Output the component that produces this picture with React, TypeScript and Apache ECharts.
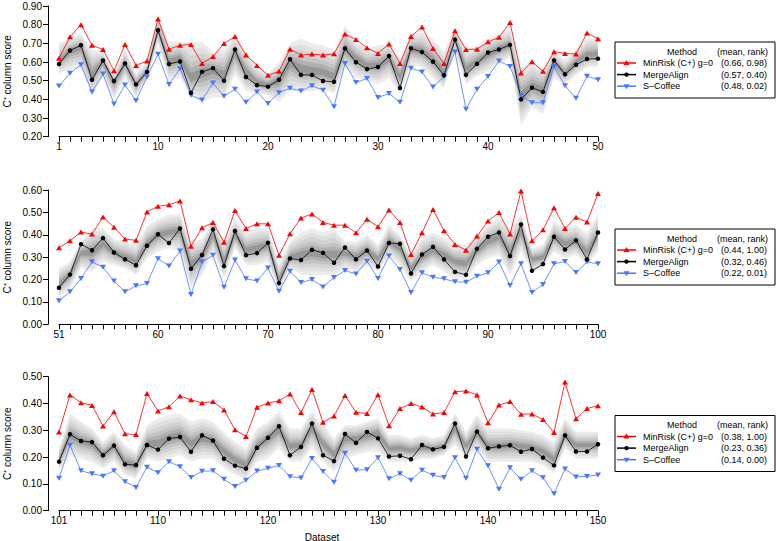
import React, { useEffect, useRef } from "react";
import * as echarts from "echarts";

// ---------- categories ----------
const datasets1 = [1,2,3,4,5,6,7,8,9,10,11,12,13,14,15,16,17,18,19,20,21,22,23,24,25,26,27,28,29,30,31,32,33,34,35,36,37,38,39,40,41,42,43,44,45,46,47,48,49,50];
const datasets2 = [51,52,53,54,55,56,57,58,59,60,61,62,63,64,65,66,67,68,69,70,71,72,73,74,75,76,77,78,79,80,81,82,83,84,85,86,87,88,89,90,91,92,93,94,95,96,97,98,99,100];
const datasets3 = [101,102,103,104,105,106,107,108,109,110,111,112,113,114,115,116,117,118,119,120,121,122,123,124,125,126,127,128,129,130,131,132,133,134,135,136,137,138,139,140,141,142,143,144,145,146,147,148,149,150];

const xTickLabels1 = ["1", "10", "20", "30", "40", "50"];
const xTickLabels2 = ["51", "60", "70", "80", "90", "100"];
const xTickLabels3 = ["101", "110", "120", "130", "140", "150"];

// ---------- panel 1 ----------
const minRisk1 = [0.62,0.735,0.80,0.69,0.667,0.553,0.694,0.582,0.606,0.83,0.669,0.69,0.694,0.592,0.629,0.699,0.736,0.637,0.582,0.529,0.55,0.669,0.637,0.643,0.637,0.644,0.75,0.72,0.676,0.646,0.697,0.592,0.736,0.788,0.672,0.592,0.767,0.667,0.669,0.708,0.732,0.811,0.541,0.602,0.55,0.655,0.646,0.643,0.755,0.725];
const mergeAlign1 = [0.589,0.662,0.69,0.505,0.608,0.498,0.592,0.48,0.547,0.77,0.589,0.603,0.435,0.547,0.567,0.50,0.667,0.52,0.476,0.468,0.505,0.615,0.531,0.531,0.498,0.494,0.673,0.599,0.562,0.573,0.632,0.461,0.674,0.653,0.602,0.529,0.72,0.532,0.59,0.651,0.667,0.692,0.40,0.462,0.44,0.609,0.534,0.585,0.616,0.618];
const sCoffee1 = [0.471,0.54,0.585,0.44,0.536,0.375,0.477,0.393,0.52,0.641,0.48,0.564,0.422,0.396,0.487,0.417,0.454,0.384,0.44,0.378,0.436,0.459,0.445,0.473,0.449,0.361,0.592,0.49,0.512,0.41,0.431,0.385,0.567,0.546,0.466,0.522,0.653,0.347,0.454,0.522,0.606,0.576,0.421,0.382,0.382,0.576,0.473,0.406,0.524,0.505];
const bandHigh1 = [0.70,0.73,0.75,0.67,0.655,0.54,0.67,0.54,0.60,0.85,0.71,0.71,0.70,0.71,0.655,0.67,0.74,0.655,0.575,0.54,0.60,0.70,0.725,0.70,0.69,0.66,0.795,0.71,0.67,0.69,0.70,0.62,0.75,0.76,0.725,0.655,0.785,0.67,0.69,0.725,0.75,0.78,0.57,0.60,0.57,0.655,0.61,0.67,0.725,0.735];
const bandMid1 = [0.60,0.66,0.68,0.53,0.60,0.49,0.59,0.48,0.55,0.77,0.60,0.62,0.51,0.54,0.56,0.53,0.65,0.55,0.49,0.475,0.50,0.60,0.56,0.55,0.54,0.52,0.67,0.62,0.58,0.58,0.62,0.52,0.67,0.66,0.61,0.54,0.72,0.56,0.60,0.64,0.67,0.69,0.42,0.47,0.45,0.60,0.54,0.60,0.64,0.64];
const bandLow1 = [0.54,0.56,0.57,0.42,0.525,0.40,0.515,0.41,0.505,0.70,0.50,0.515,0.42,0.385,0.41,0.41,0.53,0.445,0.435,0.42,0.385,0.445,0.445,0.445,0.46,0.43,0.57,0.515,0.50,0.48,0.515,0.43,0.585,0.57,0.515,0.46,0.655,0.48,0.525,0.55,0.595,0.62,0.26,0.36,0.32,0.515,0.48,0.53,0.57,0.575];
const legendStats1 = ["(0.66, 0.98)", "(0.57, 0.40)", "(0.48, 0.02)"];

// ---------- panel 2 ----------
const minRisk2 = [0.342,0.373,0.412,0.403,0.479,0.434,0.381,0.375,0.502,0.527,0.534,0.551,0.349,0.431,0.455,0.367,0.508,0.428,0.449,0.449,0.308,0.405,0.475,0.493,0.455,0.443,0.443,0.409,0.469,0.436,0.511,0.455,0.312,0.409,0.513,0.418,0.357,0.331,0.394,0.461,0.499,0.403,0.596,0.373,0.422,0.521,0.428,0.478,0.457,0.584];
const mergeAlign2 = [0.163,0.222,0.358,0.331,0.385,0.321,0.29,0.264,0.351,0.402,0.363,0.428,0.248,0.31,0.424,0.26,0.417,0.309,0.318,0.364,0.184,0.294,0.287,0.333,0.319,0.275,0.343,0.29,0.33,0.258,0.363,0.36,0.227,0.312,0.346,0.29,0.234,0.221,0.337,0.391,0.41,0.305,0.446,0.239,0.269,0.391,0.334,0.375,0.29,0.41];
const sCoffee2 = [0.105,0.145,0.205,0.279,0.255,0.193,0.145,0.172,0.182,0.293,0.261,0.327,0.133,0.278,0.308,0.166,0.287,0.203,0.194,0.251,0.148,0.237,0.187,0.20,0.167,0.209,0.24,0.225,0.282,0.205,0.305,0.245,0.142,0.23,0.21,0.203,0.19,0.188,0.215,0.23,0.278,0.173,0.27,0.142,0.178,0.27,0.281,0.231,0.279,0.27];
const bandHigh2 = [0.25,0.28,0.37,0.43,0.43,0.38,0.37,0.355,0.44,0.47,0.49,0.495,0.37,0.38,0.47,0.37,0.47,0.41,0.43,0.43,0.265,0.37,0.41,0.43,0.41,0.43,0.37,0.37,0.40,0.355,0.445,0.40,0.31,0.385,0.41,0.385,0.355,0.355,0.40,0.445,0.475,0.43,0.49,0.34,0.355,0.46,0.43,0.445,0.41,0.49];
const bandMid2 = [0.18,0.22,0.32,0.32,0.36,0.32,0.30,0.28,0.36,0.40,0.41,0.42,0.27,0.30,0.40,0.28,0.40,0.33,0.34,0.355,0.20,0.30,0.31,0.32,0.31,0.31,0.32,0.30,0.33,0.29,0.37,0.34,0.25,0.30,0.33,0.31,0.28,0.27,0.33,0.37,0.39,0.32,0.42,0.29,0.30,0.39,0.36,0.37,0.32,0.40];
const bandLow2 = [0.12,0.16,0.25,0.235,0.28,0.265,0.25,0.22,0.295,0.325,0.34,0.325,0.16,0.22,0.325,0.205,0.34,0.265,0.265,0.28,0.145,0.25,0.22,0.22,0.22,0.22,0.25,0.235,0.265,0.235,0.31,0.265,0.19,0.235,0.265,0.235,0.205,0.205,0.265,0.295,0.31,0.22,0.325,0.235,0.25,0.325,0.295,0.31,0.265,0.325];
const legendStats2 = ["(0.44, 1.00)", "(0.32, 0.46)", "(0.22, 0.01)"];

// ---------- panel 3 ----------
const minRisk3 = [0.294,0.432,0.403,0.393,0.316,0.369,0.287,0.284,0.437,0.372,0.388,0.428,0.414,0.402,0.407,0.376,0.302,0.277,0.386,0.402,0.41,0.435,0.366,0.452,0.33,0.353,0.43,0.367,0.363,0.433,0.317,0.381,0.40,0.387,0.361,0.366,0.444,0.447,0.432,0.328,0.394,0.407,0.36,0.361,0.34,0.292,0.48,0.343,0.381,0.392];
const mergeAlign3 = [0.183,0.285,0.26,0.256,0.207,0.243,0.173,0.17,0.245,0.228,0.269,0.275,0.22,0.281,0.262,0.194,0.168,0.157,0.235,0.272,0.315,0.207,0.238,0.325,0.207,0.185,0.286,0.253,0.294,0.27,0.202,0.205,0.192,0.245,0.229,0.238,0.325,0.202,0.295,0.233,0.24,0.244,0.22,0.23,0.198,0.169,0.281,0.221,0.221,0.248];
const sCoffee3 = [0.121,0.244,0.149,0.138,0.129,0.149,0.108,0.087,0.162,0.142,0.183,0.164,0.124,0.147,0.149,0.117,0.09,0.114,0.148,0.158,0.169,0.127,0.122,0.195,0.146,0.106,0.214,0.151,0.153,0.198,0.119,0.138,0.114,0.151,0.132,0.124,0.198,0.121,0.229,0.168,0.08,0.16,0.117,0.149,0.123,0.063,0.156,0.126,0.128,0.133];
const bandHigh3 = [0.23,0.363,0.332,0.307,0.257,0.295,0.245,0.22,0.32,0.345,0.357,0.363,0.332,0.345,0.332,0.295,0.257,0.232,0.307,0.332,0.37,0.307,0.307,0.37,0.32,0.27,0.32,0.32,0.332,0.345,0.282,0.282,0.27,0.282,0.27,0.282,0.363,0.295,0.357,0.307,0.307,0.307,0.30,0.295,0.282,0.257,0.345,0.295,0.295,0.295];
const bandMid3 = [0.19,0.28,0.26,0.25,0.21,0.24,0.18,0.17,0.25,0.25,0.27,0.28,0.25,0.27,0.26,0.22,0.19,0.17,0.24,0.27,0.30,0.24,0.245,0.31,0.25,0.21,0.27,0.27,0.28,0.29,0.23,0.235,0.225,0.235,0.23,0.24,0.31,0.24,0.29,0.24,0.24,0.245,0.24,0.235,0.22,0.19,0.28,0.245,0.245,0.245];
const bandLow3 = [0.15,0.208,0.195,0.183,0.158,0.183,0.133,0.12,0.195,0.183,0.195,0.208,0.183,0.195,0.195,0.158,0.133,0.12,0.183,0.195,0.233,0.183,0.183,0.233,0.183,0.145,0.195,0.208,0.22,0.22,0.183,0.183,0.183,0.195,0.195,0.208,0.245,0.195,0.233,0.183,0.183,0.183,0.183,0.183,0.17,0.14,0.233,0.195,0.195,0.195];
const legendStats3 = ["(0.38, 1.00)", "(0.23, 0.36)", "(0.14, 0.00)"];

const methodNames = ["MinRisk (C+) g=0", "MergeAlign", "S\u2013Coffee"];
const yTitle = "C\u207A column score";
const xTitle = "Dataset";

// ---------- styling ----------
const FONT = "'Liberation Sans', Arial, Helvetica, sans-serif";
const RED = "#ff0000";
const BLACK = "#000000";
const BLUE = "#4876ff";
const bandLevels = [1, 0.82, 0.64, 0.47, 0.31, 0.16];
const bandColors = ["#ececec", "#e0e0e0", "#d3d3d3", "#c4c4c4", "#b0b0b0", "#989898"];

const panels = [
  { cats: datasets1, red: minRisk1, black: mergeAlign1, blue: sCoffee1, low: bandLow1, mid: bandMid1, high: bandHigh1, yMin: 0.2, yMax: 0.9, ticks: xTickLabels1, stats: legendStats1, top: 6, height: 130.7, legendTop: 42 },
  { cats: datasets2, red: minRisk2, black: mergeAlign2, blue: sCoffee2, low: bandLow2, mid: bandMid2, high: bandHigh2, yMin: 0, yMax: 0.6, ticks: xTickLabels2, stats: legendStats2, top: 190, height: 134.3, legendTop: 229 },
  { cats: datasets3, red: minRisk3, black: mergeAlign3, blue: sCoffee3, low: bandLow3, mid: bandMid3, high: bandHigh3, yMin: 0, yMax: 0.5, ticks: xTickLabels3, stats: legendStats3, top: 376.7, height: 134, legendTop: 415.5 },
];

const GRID_LEFT = 59;
const GRID_WIDTH = 539;

function buildOption() {
  const grids: any[] = [];
  const xAxes: any[] = [];
  const yAxes: any[] = [];
  const series: any[] = [];
  const graphics: any[] = [];

  panels.forEach((p, i) => {
    grids.push({ left: GRID_LEFT, width: GRID_WIDTH, top: p.top, height: p.height, outerBoundsMode: "none", containLabel: false });
    xAxes.push({
      type: "category",
      gridIndex: i,
      data: p.cats.map(String),
      boundaryGap: false,
      axisLine: { show: true, lineStyle: { color: BLACK, width: 1 } },
      axisTick: { show: true, interval: 0, length: 5, lineStyle: { color: BLACK, width: 1 } },
      axisLabel: {
        interval: (_idx: number, val: string) => p.ticks.includes(val),
        fontSize: 10,
        fontFamily: FONT,
        color: BLACK,
        margin: 5,
      },
      splitLine: { show: false },
    });
    yAxes.push({
      type: "value",
      gridIndex: i,
      min: p.yMin,
      max: p.yMax,
      interval: 0.1,
      offset: 11,
      axisLine: { show: true, lineStyle: { color: BLACK, width: 1 } },
      axisTick: { show: true, length: 5, lineStyle: { color: BLACK, width: 1 } },
      axisLabel: { formatter: (v: number) => v.toFixed(2), fontSize: 10, fontFamily: FONT, color: BLACK, margin: 6 },
      splitLine: { show: false },
    });

    // shaded bands (outer to inner)
    bandLevels.forEach((f, k) => {
      const lo = p.low.map((l, j) => p.mid[j] - (p.mid[j] - l) * f);
      const hi = p.high.map((h, j) => p.mid[j] + (h - p.mid[j]) * f);
      const stack = `p${i}b${k}`;
      series.push({
        type: "line", xAxisIndex: i, yAxisIndex: i, data: lo, stack, symbol: "none",
        lineStyle: { width: 0, opacity: 0 }, silent: true, z: 1, clip: false,
      });
      series.push({
        type: "line", xAxisIndex: i, yAxisIndex: i, data: hi.map((h, j) => h - lo[j]), stack, symbol: "none",
        lineStyle: { width: 0, opacity: 0 }, areaStyle: { color: bandColors[k], opacity: 1 }, silent: true, z: 1, clip: false,
      });
    });

    const methodSeries = [
      { data: p.blue, color: BLUE, symbol: "triangle", rotate: 180, size: [6, 5] },
      { data: p.black, color: BLACK, symbol: "circle", rotate: 0, size: 4.5 },
      { data: p.red, color: RED, symbol: "triangle", rotate: 0, size: [6, 5] },
    ];
    methodSeries.forEach((m) => {
      series.push({
        type: "line", xAxisIndex: i, yAxisIndex: i, data: m.data,
        symbol: m.symbol, symbolRotate: m.rotate, symbolSize: m.size, showAllSymbol: true,
        itemStyle: { color: m.color }, lineStyle: { color: m.color, width: 0.8 },
        z: 3, clip: false, silent: true,
      });
    });

    // y-axis title
    graphics.push({
      type: "text", x: 7, y: p.top + p.height / 2, rotation: Math.PI / 2,
      style: { text: yTitle, font: `10px ${FONT}`, fill: BLACK, textAlign: "center", textVerticalAlign: "middle" },
    });

    // legend box
    const T = p.legendTop;
    const L = 615;
    graphics.push({ type: "rect", shape: { x: L, y: T, width: 160, height: 56 }, style: { fill: "#fff", stroke: BLACK, lineWidth: 1 } });
    graphics.push({ type: "text", x: 682, y: T + 9.5, style: { text: "Method", font: `9px ${FONT}`, fill: BLACK, textAlign: "center", textVerticalAlign: "middle" } });
    graphics.push({ type: "text", x: 768, y: T + 9.5, style: { text: "(mean, rank)", font: `9px ${FONT}`, fill: BLACK, textAlign: "right", textVerticalAlign: "middle" } });
    const rowColors = [RED, BLACK, BLUE];
    rowColors.forEach((c, r) => {
      const y = T + 21 + r * 11.6;
      graphics.push({ type: "line", shape: { x1: 617, y1: y, x2: 636, y2: y }, style: { stroke: c, lineWidth: 1.5 } });
      const cx = 626.5;
      if (r === 1) {
        graphics.push({ type: "circle", shape: { cx, cy: y, r: 2.2 }, style: { fill: c } });
      } else if (r === 0) {
        graphics.push({ type: "polygon", shape: { points: [[cx - 3, y + 2], [cx + 3, y + 2], [cx, y - 3]] }, style: { fill: c } });
      } else {
        graphics.push({ type: "polygon", shape: { points: [[cx - 3, y - 2], [cx + 3, y - 2], [cx, y + 3]] }, style: { fill: c } });
      }
      graphics.push({ type: "text", x: 643, y, style: { text: methodNames[r], font: `9px ${FONT}`, fill: BLACK, textAlign: "left", textVerticalAlign: "middle" } });
      graphics.push({ type: "text", x: 767, y, style: { text: p.stats[r], font: `9px ${FONT}`, fill: BLACK, textAlign: "right", textVerticalAlign: "middle" } });
    });
  });

  graphics.push({
    type: "text", x: 322, y: 537,
    style: { text: xTitle, font: `10px ${FONT}`, fill: BLACK, textAlign: "center", textVerticalAlign: "middle" },
  });

  return {
    animation: false,
    backgroundColor: "#ffffff",
    grid: grids,
    xAxis: xAxes,
    yAxis: yAxes,
    series,
    graphic: graphics,
  };
}

export default function App() {
  const ref = useRef<HTMLDivElement>(null);
  useEffect(() => {
    if (!ref.current) return;
    const chart = echarts.init(ref.current, null, { renderer: "svg" });
    chart.setOption(buildOption() as any);
    return () => chart.dispose();
  }, []);
  return <div ref={ref} style={{ position: "absolute", left: 0, top: 0, width: 776, height: 541 }} />;
}
